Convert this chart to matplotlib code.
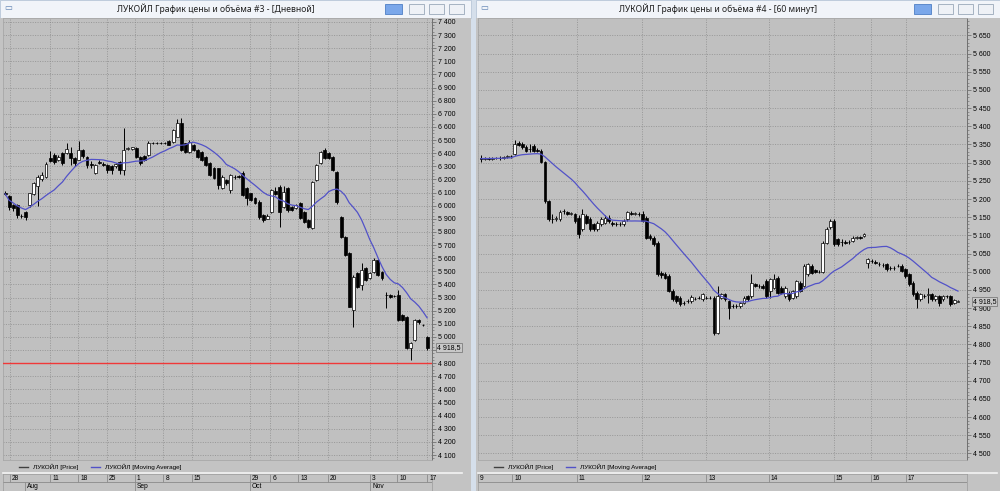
import matplotlib
matplotlib.use("Agg")
import matplotlib.pyplot as plt
import numpy as np
import pandas as pd
from matplotlib.patches import Rectangle
from matplotlib.lines import Line2D
from matplotlib.ticker import MultipleLocator, FuncFormatter

plt.rcParams['font.family'] = ['Liberation Sans', 'DejaVu Sans']

# ---------------- data: daily candles (left window) ----------------
left_open = [6100, 6074, 6005, 6005, 5925, 5955, 6005, 6090, 6150, 6200,
             6220, 6360, 6385, 6350, 6400, 6400, 6400, 6360, 6350, 6425,
             6370, 6320, 6247, 6330, 6320, 6310, 6300, 6300, 6335, 6270,
             6430, 6430, 6437, 6373, 6375, 6386, 6475, 6475, 6478, 6480,
             6490, 6488, 6527, 6627, 6475, 6411, 6462, 6424, 6411, 6373,
             6323, 6285, 6285, 6132, 6196, 6120, 6220, 6225, 6250, 6132,
             6094, 6056, 6030, 5929, 5900, 5954, 6110, 6145, 5992, 6132,
             5992, 5980, 6018, 5954, 5891, 5827, 6196, 6323, 6424, 6400,
             6373, 6259, 5916, 5764, 5637, 5205, 5485, 5396, 5523, 5450,
             5498, 5587, 5497, 5320, 5320, 5313, 5320, 5167, 5155, 4913,
             4976, 5129, 5090, 5002]
left_high = [6110, 6082, 6012, 6010, 5940, 5962, 6100, 6180, 6235, 6260,
             6330, 6420, 6400, 6385, 6410, 6475, 6450, 6370, 6490, 6435,
             6380, 6340, 6320, 6345, 6330, 6318, 6310, 6325, 6340, 6590,
             6445, 6450, 6445, 6380, 6385, 6490, 6485, 6488, 6485, 6488,
             6500, 6585, 6660, 6665, 6480, 6500, 6470, 6430, 6418, 6380,
             6330, 6292, 6290, 6230, 6205, 6240, 6230, 6232, 6262, 6140,
             6100, 6065, 6040, 5935, 5935, 6130, 6140, 6155, 6150, 6140,
             6000, 6015, 6025, 5960, 5898, 6190, 6318, 6420, 6440, 6410,
             6380, 6265, 5925, 5770, 5645, 5470, 5495, 5560, 5530, 5495,
             5600, 5595, 5505, 5345, 5325, 5318, 5360, 5175, 5162, 4960,
             5140, 5135, 5100, 5008]
left_low = [6080, 5965, 5960, 5903, 5905, 5890, 5990, 6085, 6000, 6190,
            6210, 6330, 6320, 6340, 6310, 6390, 6310, 6300, 6345, 6365,
            6290, 6290, 6240, 6315, 6300, 6250, 6245, 6290, 6245, 6235,
            6425, 6425, 6365, 6310, 6340, 6380, 6470, 6470, 6468, 6472,
            6460, 6480, 6520, 6415, 6400, 6405, 6415, 6365, 6340, 6300,
            6225, 6200, 6130, 6125, 6160, 6100, 6205, 6212, 6070, 6005,
            6035, 6010, 5900, 5875, 5895, 5945, 6080, 5840, 5985, 5950,
            5960, 5975, 5895, 5870, 5830, 5820, 6190, 6318, 6355, 6352,
            6265, 6015, 5755, 5615, 5225, 5078, 5375, 5360, 5425, 5445,
            5490, 5465, 5430, 5220, 5300, 5306, 5120, 5120, 4905, 4824,
            4970, 5100, 5080, 4900]
left_close = [6090, 5992, 5980, 5929, 5920, 5910, 6094, 6170, 6220, 6230,
              6320, 6340, 6335, 6370, 6325, 6435, 6360, 6325, 6425, 6375,
              6310, 6310, 6310, 6325, 6310, 6270, 6270, 6320, 6270, 6425,
              6440, 6445, 6373, 6325, 6350, 6475, 6478, 6480, 6475, 6478,
              6465, 6577, 6627, 6424, 6411, 6488, 6424, 6373, 6348, 6310,
              6234, 6208, 6158, 6221, 6170, 6234, 6215, 6220, 6085, 6056,
              6043, 6018, 5916, 5890, 5925, 6119, 6090, 5954, 6107, 5967,
              5967, 6005, 5903, 5878, 5840, 6183, 6310, 6411, 6360, 6360,
              6272, 6030, 5764, 5625, 5231, 5460, 5383, 5510, 5434, 5485,
              5587, 5472, 5447, 5318, 5307, 5312, 5129, 5129, 4913, 4951,
              5129, 5110, 5087, 4918.5]
left_dates = ['28', '11', '18', '25', '1', '8', '15', '29', '6', '13', '20', '3', '10', '17']
left_months = ['Aug', 'Sep', 'Oct', 'Nov']
left_level = 4800

# ---------------- data: 60-minute candles (right window) ----------------
right_open = [5312, 5311, 5312, 5311, 5312, 5313, 5312, 5315, 5317, 5324,
              5355, 5352, 5342, 5338, 5347, 5336, 5333, 5301, 5195, 5146,
              5145, 5144, 5168, 5163, 5160, 5158, 5149, 5117, 5154, 5144,
              5130, 5117, 5130, 5135, 5149, 5135, 5131, 5130, 5130, 5145,
              5162, 5160, 5159, 5158, 5149, 5098, 5094, 5080, 4997, 4993,
              4988, 4947, 4933, 4928, 4915, 4920, 4919, 4926, 4928, 4924,
              4929, 4928, 4928, 4832, 4928, 4938, 4919, 4906, 4905, 4905,
              4914, 4933, 4933, 4965, 4961, 4961, 4974, 4947, 4956, 4983,
              4956, 4933, 4942, 4928, 4933, 4970, 4961, 4993, 5016, 5004,
              5000, 5000, 5080, 5122, 5140, 5090, 5083, 5081, 5081, 5085,
              5094, 5095, 5099, 5025, 5030, 5027, 5022, 5019, 5020, 5011,
              5010, 5016, 5016, 5007, 4993, 4970, 4942, 4924, 4933, 4937,
              4938, 4924, 4933, 4924, 4933, 4933, 4914, 4918]
right_high = [5320, 5315, 5316, 5315, 5316, 5317, 5318, 5320, 5322, 5361,
              5360, 5358, 5348, 5352, 5352, 5340, 5338, 5305, 5198, 5158,
              5152, 5170, 5172, 5168, 5165, 5162, 5155, 5172, 5160, 5150,
              5135, 5140, 5150, 5155, 5155, 5140, 5136, 5136, 5145, 5168,
              5167, 5165, 5163, 5168, 5153, 5104, 5098, 5084, 5002, 4998,
              4993, 4952, 4937, 4932, 4920, 4924, 4935, 4930, 4933, 4942,
              4933, 4933, 4932, 4960, 4942, 4942, 4923, 4910, 4910, 4918,
              4932, 4937, 4993, 4970, 4966, 4965, 4979, 4983, 4993, 4988,
              4960, 4960, 4946, 4951, 4978, 4974, 5020, 5025, 5020, 5008,
              5004, 5084, 5122, 5145, 5145, 5094, 5090, 5086, 5087, 5098,
              5099, 5099, 5106, 5039, 5035, 5031, 5026, 5024, 5025, 5015,
              5015, 5020, 5020, 5011, 4997, 4974, 4946, 4942, 4938, 4956,
              4942, 4937, 4937, 4937, 4937, 4937, 4926, 4921]
right_low = [5302, 5307, 5308, 5307, 5309, 5308, 5309, 5312, 5314, 5320,
             5345, 5338, 5328, 5330, 5328, 5328, 5298, 5190, 5140, 5135,
             5140, 5140, 5160, 5155, 5155, 5135, 5094, 5112, 5130, 5112,
             5112, 5112, 5126, 5130, 5135, 5126, 5125, 5126, 5126, 5140,
             5155, 5156, 5154, 5136, 5090, 5088, 5072, 4988, 4983, 4980,
             4943, 4919, 4915, 4906, 4908, 4915, 4915, 4921, 4924, 4920,
             4924, 4924, 4825, 4828, 4924, 4920, 4870, 4900, 4901, 4901,
             4910, 4920, 4928, 4958, 4956, 4952, 4929, 4928, 4952, 4938,
             4938, 4929, 4920, 4924, 4929, 4943, 4957, 4989, 4993, 4996,
             4996, 4996, 5076, 5118, 5072, 5072, 5071, 5077, 5077, 5081,
             5090, 5090, 5096, 5011, 5025, 5022, 5017, 5014, 5003, 5006,
             5006, 5012, 4998, 4984, 4960, 4933, 4901, 4920, 4928, 4915,
             4920, 4920, 4905, 4920, 4928, 4906, 4910, 4916]
right_close = [5311, 5312, 5311, 5312, 5313, 5312, 5315, 5317, 5318, 5352,
               5348, 5342, 5333, 5337, 5333, 5331, 5301, 5195, 5144, 5144,
               5147, 5163, 5167, 5158, 5161, 5140, 5103, 5158, 5135, 5117,
               5117, 5135, 5144, 5149, 5140, 5130, 5130, 5131, 5140, 5163,
               5160, 5161, 5158, 5140, 5094, 5092, 5076, 4993, 4990, 4984,
               4947, 4924, 4919, 4910, 4913, 4919, 4931, 4925, 4929, 4938,
               4928, 4929, 4832, 4933, 4938, 4924, 4901, 4905, 4906, 4914,
               4928, 4924, 4970, 4961, 4961, 4956, 4933, 4979, 4979, 4942,
               4942, 4956, 4924, 4947, 4974, 4947, 5016, 5020, 4997, 5000,
               5000, 5080, 5117, 5140, 5076, 5076, 5082, 5080, 5083, 5094,
               5095, 5094, 5103, 5034, 5029, 5025, 5021, 5018, 5007, 5010,
               5011, 5016, 5002, 4988, 4965, 4938, 4924, 4938, 4932, 4938,
               4924, 4933, 4915, 4933, 4932, 4910, 4922, 4918.5]
right_dates = ['9', '10', '11', '12', '13', '14', '15', '16', '17']

last_price = 4918.5

# ---------------- layout helpers (pixels -> figure fraction) ----------------
W, H = 1000, 491
fig = plt.figure(figsize=(W / 100, H / 100), dpi=100)
fig.patch.set_facecolor('#d5dfeb')


def px(x0, y0, x1, y1):
    return [x0 / W, 1 - y1 / H, (x1 - x0) / W, (y1 - y0) / H]


def rect(x0, y0, x1, y1, fc, ec='none', lw=0.0, z=0):
    fig.add_artist(Rectangle((x0 / W, 1 - y1 / H), (x1 - x0) / W, (y1 - y0) / H,
                             transform=fig.transFigure, facecolor=fc,
                             edgecolor=ec, linewidth=lw, zorder=z))


def fig_line(x0, x1, y, color, lw=1.0):
    fig.add_artist(Line2D([x0 / W, x1 / W], [1 - y / H, 1 - y / H],
                          transform=fig.transFigure, color=color, linewidth=lw))


def price_fmt(hide=None):
    def f(v, pos):
        if hide is not None and abs(v - hide) < 1e-6:
            return ''
        return f'{v:,.0f}'.replace(',', ' ')
    return FuncFormatter(f)


def draw_candles(ax, o, h, l, c, width):
    o, h, l, c = (np.asarray(a, dtype=float) for a in (o, h, l, c))
    x = np.arange(len(o))
    ax.vlines(x, l, h, color='black', linewidth=0.7, zorder=3)
    colors = np.where(c >= o, 'white', 'black')
    ax.bar(x, np.abs(c - o), width, bottom=np.minimum(o, c), color=colors,
           edgecolor='black', linewidth=0.5, zorder=4)


def window(x0, x1, title, pane, xlim, ylim, major, minor, o, h, l, c, ma_win,
           tick_pos, tick_labels, month_pos=None, month_labels=None,
           level=None, hide_tick=None):
    # window chrome
    rect(x0, 0, x1, 18, '#f1f4f9', '#b9c7d8', 0.6)
    rect(x0, 18, x1, H, '#c3c3c3')
    fig.text((x0 + x1 - 40) / 2 / W, 1 - 9 / H, title, ha='center', va='center',
             fontsize=6.2, family=['Noto Sans', 'DejaVu Sans'], color='#202020')
    fig.text((x0 + 8) / W, 1 - 9 / H, '▭', ha='center', va='center',
             fontsize=6, color='#5a7fb0')
    bx = x1 - 86
    rect(bx, 4, bx + 17, 14, '#7aa7ea', '#4f7fc4', 0.6, 2)
    for k in range(3):
        rect(bx + 24 + k * 20, 4, bx + 39 + k * 20, 14, '#eef1f6', '#9aa8ba', 0.6, 2)

    pl, pr = pane
    ax = fig.add_axes(px(pl, 18, pr, 460))
    ax.set_facecolor('#c0c0c0')
    draw_candles(ax, o, h, l, c, 0.72)
    ma = pd.Series(c, dtype=float).rolling(ma_win, min_periods=1).mean()
    ax.plot(np.arange(len(c)), ma, color='#5252c8', linewidth=0.9, zorder=5)
    if level is not None:
        ax.axhline(level, color='#f03838', linewidth=1.0, zorder=6)
    ax.set_xlim(*xlim)
    ax.set_ylim(*ylim)
    ax.yaxis.set_major_locator(MultipleLocator(major))
    ax.yaxis.set_minor_locator(MultipleLocator(minor))
    ax.yaxis.set_major_formatter(price_fmt(hide_tick))
    ax.yaxis.tick_right()
    ax.tick_params(axis='y', which='major', labelsize=5, length=3, width=0.5,
                   color='#606060', pad=1.5)
    ax.tick_params(axis='y', which='minor', length=1.5, width=0.4, color='#606060')
    ax.set_xticks(tick_pos)
    ax.tick_params(axis='x', length=0, labelbottom=False)
    ax.grid(True, which='major', color='#8a8a8a', linestyle=(0, (1.5, 2)),
            linewidth=0.5, zorder=1)
    ax.set_axisbelow(True)
    for s in ('top', 'left', 'bottom'):
        ax.spines[s].set_color('#a8a8a8')
        ax.spines[s].set_linewidth(0.6)
    ax.spines['right'].set_color('#707070')
    ax.spines['right'].set_linewidth(0.7)
    ax.text(1.012, last_price, f'{last_price:,.1f}'.replace(',', ' ').replace('.', ','),
            transform=ax.get_yaxis_transform(), fontsize=5, va='center', ha='left',
            bbox=dict(boxstyle='square,pad=0.15', fc='#c8c8c8', ec='#707070', lw=0.5))

    # legend strip
    lx = pl + 16
    fig_line(lx, lx + 9, 467, '#404040', 1.0)
    fig.text((lx + 14) / W, 1 - 467 / H, 'ЛУКОЙЛ [Price]', fontsize=4.6, va='center')
    fig_line(lx + 72, lx + 81, 467, '#5252c8', 1.0)
    fig.text((lx + 86) / W, 1 - 467 / H, 'ЛУКОЙЛ [Moving Average]', fontsize=4.6,
             va='center')
    fig_line(pl, pr + 30, 472.5, '#f4f4f4', 1.2)

    # date strip
    dax = fig.add_axes(px(pl, 474, pr, 491))
    dax.set_facecolor('#c3c3c3')
    dax.set_xlim(*xlim)
    dax.set_ylim(0, 2)
    dax.axhline(1.05, color='#8a8a8a', linewidth=0.6)
    dax.vlines(tick_pos, 1.05, 2, color='#8a8a8a', linewidth=0.6)
    for p, t in zip(tick_pos, tick_labels):
        dax.text(p + 0.5, 1.5, t, fontsize=4.8, va='center', ha='left')
    if month_pos is not None:
        dax.vlines(month_pos, 0, 1.05, color='#8a8a8a', linewidth=0.6)
        for p, t in zip(month_pos, month_labels):
            dax.text(p + 0.5, 0.5, t, fontsize=4.8, va='center', ha='left')
    dax.set_xticks([])
    dax.set_yticks([])
    for s in dax.spines.values():
        s.set_color('#9a9a9a')
        s.set_linewidth(0.5)
    return ax


# left window: daily
window(0, 471, 'ЛУКОЙЛ График цены и объёма #3 - [Дневной]', (3, 432),
       (-0.5, 104.2), (4062, 7430), 100, 25,
       left_open, left_high, left_low, left_close, 12,
       [1.2, 11.0, 17.8, 24.9, 31.7, 38.6, 45.6, 59.8, 64.7, 71.5, 78.8, 89.1, 95.7, 103.0],
       left_dates, [4.9, 31.7, 59.8, 89.1], left_months,
       level=left_level, hide_tick=4900)

# right window: 60 minutes
window(476, 1000, 'ЛУКОЙЛ График цены и объёма #4 - [60 минут]', (478, 967),
       (-0.8, 129.4), (4482, 5698), 50, 10,
       right_open, right_high, right_low, right_close, 18,
       [-0.8, 8.3, 25.6, 42.9, 60.0, 76.7, 94.0, 103.8, 113.1],
       right_dates)

fig.savefig('out.png', dpi=100, facecolor=fig.get_facecolor())
